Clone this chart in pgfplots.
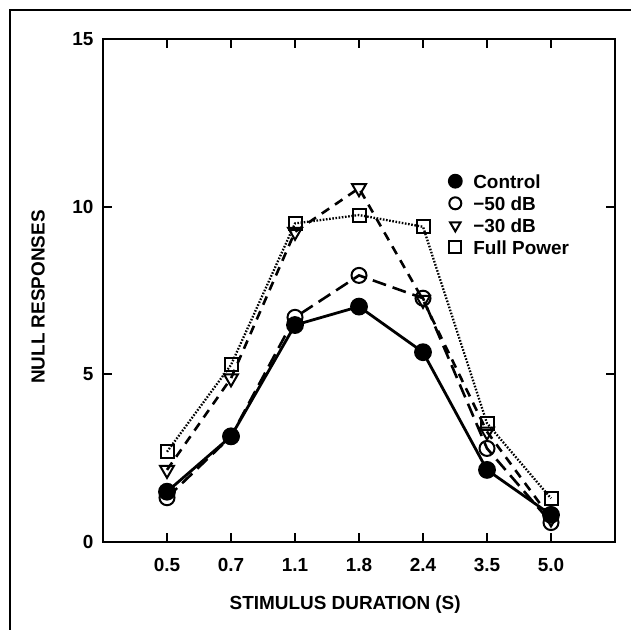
\documentclass[border=0pt]{standalone}
\usepackage{fontspec}
\setmainfont{Liberation Sans}
\usepackage{pgfplots}
\pgfplotsset{compat=1.18}

% Null responses per stimulus duration, one table per condition
\pgfplotstableread{
x y
0 1.50
1 3.15
2 6.47
3 7.02
4 5.66
5 2.15
6 0.81
}\control
\pgfplotstableread{
x y
0 1.32
1 3.15
2 6.70
3 7.95
4 7.27
5 2.79
6 0.58
}\fiftydb
\pgfplotstableread{
x y
0 2.15
1 4.88
2 9.25
3 10.55
4 7.22
5 3.29
6 0.70
}\thirtydb
\pgfplotstableread{
x y
0 2.69
1 5.28
2 9.50
3 9.75
4 9.40
5 3.54
6 1.30
}\fullpower

\newcommand{\lblfont}{\fontsize{19}{19}\selectfont\bfseries}

\begin{document}
\begin{tikzpicture}[x=1bp,y=1bp]
\path[use as bounding box] (0,0) rectangle (631,630);
% frame around the figure
\draw[line width=2.4bp] (10,0) -- (10,620) -- (631,620);
\begin{axis}[
  at={(103bp,88bp)}, anchor=south west,
  scale only axis, width=512bp, height=503bp,
  xmin=-1, xmax=7, ymin=0, ymax=15,
  xtick={0,...,6},
  xticklabels={0.5,0.7,1.1,1.8,2.4,3.5,5.0},
  ytick={0,5,10,15},
  minor tick num=0,
  tick align=inside,
  major tick length=9bp,
  axis line style={line width=2.2bp},
  every tick/.style={black, line width=2bp},
  tick label style={font=\lblfont},
  /pgf/number format/assume math mode=true,
  xticklabel style={yshift=-13bp},
  yticklabel style={xshift=-6bp},
  xlabel={STIMULUS DURATION (S)},
  ylabel={NULL RESPONSES},
  label style={font=\lblfont},
  xlabel style={at={(rel axis cs:0.473,0)}, anchor=center, yshift=-63bp},
  ylabel style={at={(rel axis cs:0,0.487)}, anchor=center, yshift=65bp},
  legend style={draw=none, fill=none, font=\lblfont, inner sep=0pt,
    at={(rel axis cs:0.676,0.7316)}, anchor=north west,
    row sep=8.1bp, column sep=3bp,
    nodes={inner sep=0bp, text height=14bp, text depth=0bp}},
  legend cell align=left,
  legend image code/.code={%
    \path[draw=none, fill=none] (-6bp,-7bp) rectangle (15bp,7bp);
    \draw[#1, mark size=6bp] plot coordinates {(0bp,0bp)};},
]
\addplot[black, line width=2.8bp, mark=*, mark size=7.5bp,
  mark options={solid, fill=black}] table {\control};
\addlegendentry{Control}
\addplot[black, line width=2.6bp, dash pattern=on 14bp off 7bp, mark=o, mark size=7.5bp,
  mark options={solid, fill=white, line width=2bp}] table {\fiftydb};
\addlegendentry{−50 dB}
\addplot[black, line width=2.6bp, dash pattern=on 9bp off 7bp, mark=triangle, mark size=8bp,
  mark options={solid, fill=white, line width=2bp, rotate=180}] table {\thirtydb};
\addlegendentry{−30 dB}
\addplot[black, line width=2.3bp, dash pattern=on 1.6bp off 1.6bp, mark=square, mark size=6.5bp,
  mark options={solid, fill=white, line width=2bp}] table {\fullpower};
\addlegendentry{Full Power}
\end{axis}
\end{tikzpicture}
\end{document}
